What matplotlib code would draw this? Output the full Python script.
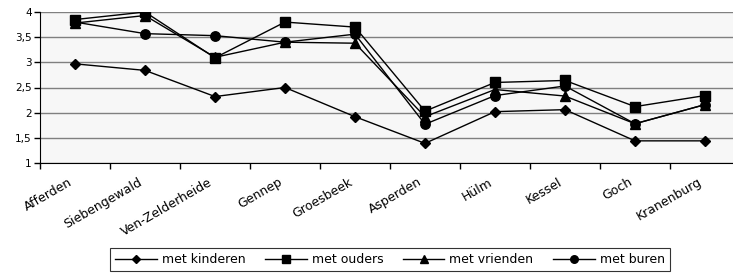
import matplotlib.pyplot as plt
from matplotlib.ticker import FuncFormatter
from matplotlib.transforms import ScaledTranslation

# Gemeenten / steden
plaatsen = ["Afferden", "Siebengewald", "Ven-Zelderheide", "Gennep", "Groesbeek",
            "Asperden", "Hülm", "Kessel", "Goch", "Kranenburg"]

met_kinderen = [2.97, 2.84, 2.32, 2.50, 1.92, 1.39, 2.02, 2.06, 1.44, 1.44]
met_ouders = [3.85, 4.00, 3.09, 3.80, 3.70, 2.03, 2.60, 2.64, 2.12, 2.34]
met_vrienden = [3.78, 3.93, 3.10, 3.40, 3.38, 1.92, 2.46, 2.33, 1.78, 2.16]
met_buren = [3.80, 3.57, 3.53, 3.40, 3.56, 1.77, 2.34, 2.53, 1.78, 2.16]

plt.rcParams['font.family'] = ['DejaVu Sans']

fig = plt.figure(figsize=(7.33, 2.73), dpi=100)
ax = fig.add_axes([40 / 733, 1 - 163 / 273, 700 / 733, 151 / 273])
ax.set_facecolor('#f7f7f7')

x = range(len(plaatsen))
ax.plot(x, met_kinderen, color='black', lw=1, marker='D', ms=5, label='met kinderen')
ax.plot(x, met_ouders, color='black', lw=1, marker='s', ms=6.8, label='met ouders')
ax.plot(x, met_vrienden, color='black', lw=1, marker='^', ms=6.8, label='met vrienden')
ax.plot(x, met_buren, color='black', lw=1, marker='o', ms=6.8, label='met buren')

ax.set_xlim(-0.5, len(plaatsen) - 0.5)
ax.set_ylim(1, 4)
ax.set_yticks([1, 1.5, 2, 2.5, 3, 3.5, 4])
ax.yaxis.set_major_formatter(FuncFormatter(lambda v, p: f"{v:g}".replace('.', ',')))
ax.grid(axis='y', color='#808080', lw=1)
ax.set_axisbelow(True)

# tick marks tussen de categorieen, labels in het midden
ax.set_xticks([i - 0.5 for i in x])
ax.set_xticklabels([])
ax.set_xticks(list(x), minor=True)
ax.set_xticklabels(plaatsen, minor=True, rotation=30, ha='right', va='top',
                   rotation_mode='anchor', fontsize=9)
ax.tick_params(axis='x', which='minor', length=0, pad=9)
ax.tick_params(axis='x', which='major', direction='out', length=4, width=1)
ax.tick_params(axis='y', direction='out', length=4, width=1, labelsize=7.5, pad=2)
verschuiving = ScaledTranslation(-7 / 100, 0, fig.dpi_scale_trans)
for lab in ax.get_xticklabels(minor=True):
    lab.set_transform(lab.get_transform() + verschuiving)

for s in ['top', 'right']:
    ax.spines[s].set_visible(False)
ax.spines['left'].set_color('black')
ax.spines['bottom'].set_color('black')

leg = fig.legend(loc='upper center', bbox_to_anchor=(390 / 733, 1 - 248 / 273), ncol=4,
                 fontsize=9, frameon=True, fancybox=False, handlelength=3.3,
                 handletextpad=0.4, columnspacing=1.6, borderpad=0.4,
                 borderaxespad=0, markerscale=0.8)
leg.get_frame().set_edgecolor('black')
leg.get_frame().set_linewidth(0.8)

fig.savefig('out.png', dpi=100)
